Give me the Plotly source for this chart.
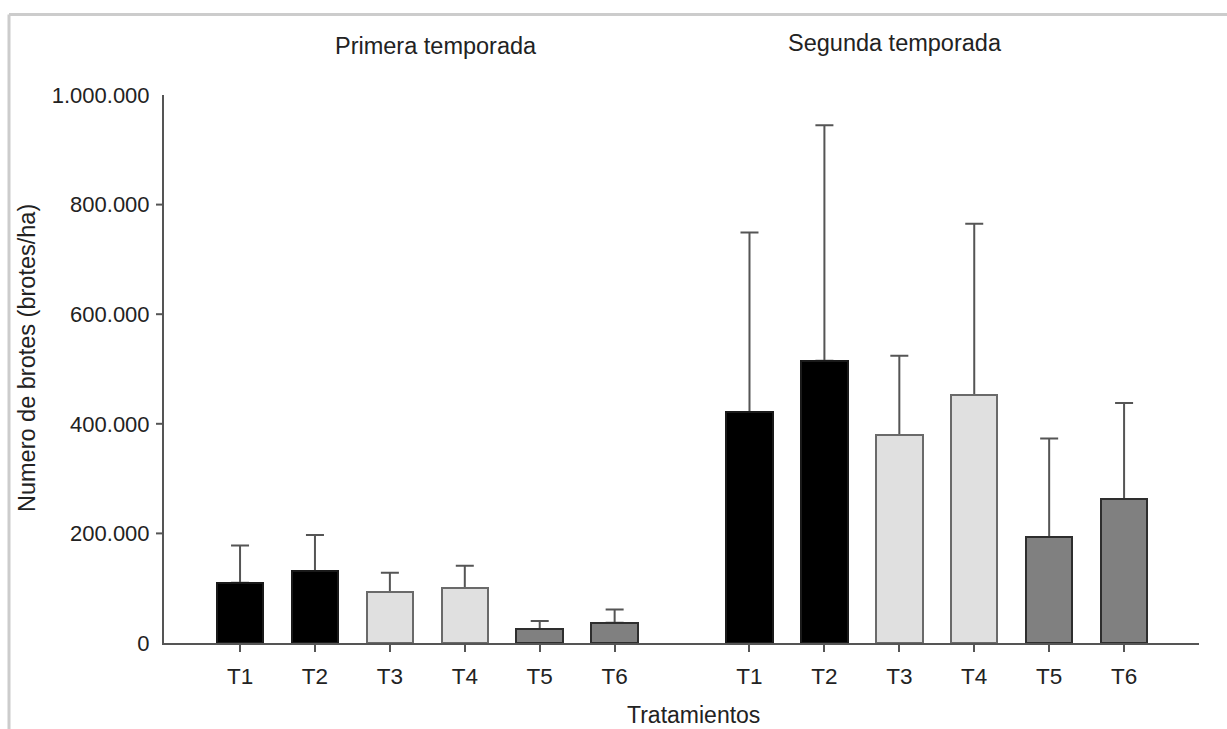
import plotly.graph_objects as go

# ---- data ----
treatments = ["T1", "T2", "T3", "T4", "T5", "T6"]
seasons = ["Primera temporada", "Segunda temporada"]
mean_season1 = [110000, 131000, 93000, 100000, 25000, 37000]
err_season1 = [68000, 66000, 35000, 41000, 15000, 24000]
mean_season2 = [421000, 515000, 379000, 452000, 193000, 263000]
err_season2 = [328000, 430000, 145000, 313000, 180000, 175000]
y_tick_vals = [0, 200000, 400000, 600000, 800000, 1000000]
y_tick_text = ["0", "200.000", "400.000", "600.000", "800.000", "1.000.000"]

# ---- styles ----
fill_colors = ["#000000", "#000000", "#e0e0e0", "#e0e0e0", "#808080", "#808080"]
line_colors = ["#1a1a1a", "#1a1a1a", "#6a6a6a", "#6a6a6a", "#2e2e2e", "#2e2e2e"]
FONT = "Liberation Sans, Arial, sans-serif"
TXT = "#222222"
AX = "#555555"

W, H = 1227, 729
L, R, T, B = 164, 28, 95, 86
PW, PH = W - L - R, H - T - B

group_offset = [0.0, 6.8]
x1 = [i + group_offset[0] for i in range(len(treatments))]
x2 = [i + group_offset[1] for i in range(len(treatments))]

fig = go.Figure()
groups = [(x1, mean_season1, err_season1), (x2, mean_season2, err_season2)]
# bars with upward error bars
for xs, means, errs in groups:
    fig.add_trace(go.Bar(
        x=xs, y=means, width=0.62,
        marker=dict(color=fill_colors, line=dict(color=line_colors, width=2)),
        error_y=dict(type="data", symmetric=False, array=errs,
                     arrayminus=[0] * len(errs), color=AX, thickness=2, width=9),
        showlegend=False, hoverinfo="x+y",
    ))
# same bars again on top, hiding the lower error caps at the bar tops
for xs, means, errs in groups:
    fig.add_trace(go.Bar(
        x=xs, y=means, width=0.62,
        marker=dict(color=fill_colors, line=dict(color=line_colors, width=2)),
        showlegend=False, hoverinfo="skip",
    ))

fig.update_layout(
    width=W, height=H,
    margin=dict(l=L, r=R, t=T, b=B),
    paper_bgcolor="white", plot_bgcolor="white",
    font=dict(family=FONT, size=22, color=TXT),
    barmode="overlay", bargap=0,
)
fig.update_xaxes(
    range=[-1.015, 12.8], showgrid=False, zeroline=False,
    showline=True, linecolor=AX, linewidth=2,
    tickvals=x1 + x2, ticktext=treatments + treatments,
    ticks="outside", ticklen=7, tickwidth=2, tickcolor=AX,
    ticklabelstandoff=5,
    tickfont=dict(size=22.5, color=TXT),
)
fig.update_yaxes(
    range=[0, 1000000], showgrid=False, zeroline=False,
    showline=True, linecolor=AX, linewidth=2,
    tickvals=y_tick_vals, ticktext=y_tick_text,
    ticks="", ticklabelstandoff=8,
    tickfont=dict(size=22, color=TXT),
)

# y tick marks (omit at 0 and top)
for v in y_tick_vals[1:-1]:
    fig.add_shape(type="line", xref="x domain", yref="y",
                  x0=-8 / PW, x1=0, y0=v, y1=v,
                  line=dict(color=AX, width=2))

# light gray frame (top and left)
def px_x(p):
    return (p - L) / PW

def px_y(p):
    return (H - B - p) / PH

fig.add_shape(type="line", xref="paper", yref="paper",
              x0=px_x(9), x1=px_x(1240), y0=px_y(14.5), y1=px_y(14.5),
              line=dict(color="#cccccc", width=3))
fig.add_shape(type="line", xref="paper", yref="paper",
              x0=px_x(9), x1=px_x(9), y0=px_y(14.5), y1=px_y(740),
              line=dict(color="#cccccc", width=3))

# season titles
fig.add_annotation(text=seasons[0], xref="paper", yref="paper",
                   x=px_x(436), y=px_y(46), showarrow=False,
                   font=dict(size=23.5, color=TXT), xanchor="center", yanchor="middle")
fig.add_annotation(text=seasons[1], xref="paper", yref="paper",
                   x=px_x(895), y=px_y(43), showarrow=False,
                   font=dict(size=23.5, color=TXT), xanchor="center", yanchor="middle")

# axis titles
fig.add_annotation(text="Tratamientos", xref="paper", yref="paper",
                   x=px_x(693), y=px_y(715), showarrow=False,
                   font=dict(size=23, color=TXT), xanchor="center", yanchor="middle")
fig.add_annotation(text="Numero de brotes (brotes/ha)", xref="paper", yref="paper",
                   x=px_x(27), y=px_y(358), showarrow=False, textangle=-90,
                   font=dict(size=23.5, color=TXT), xanchor="center", yanchor="middle")

fig.write_html("out.html")
